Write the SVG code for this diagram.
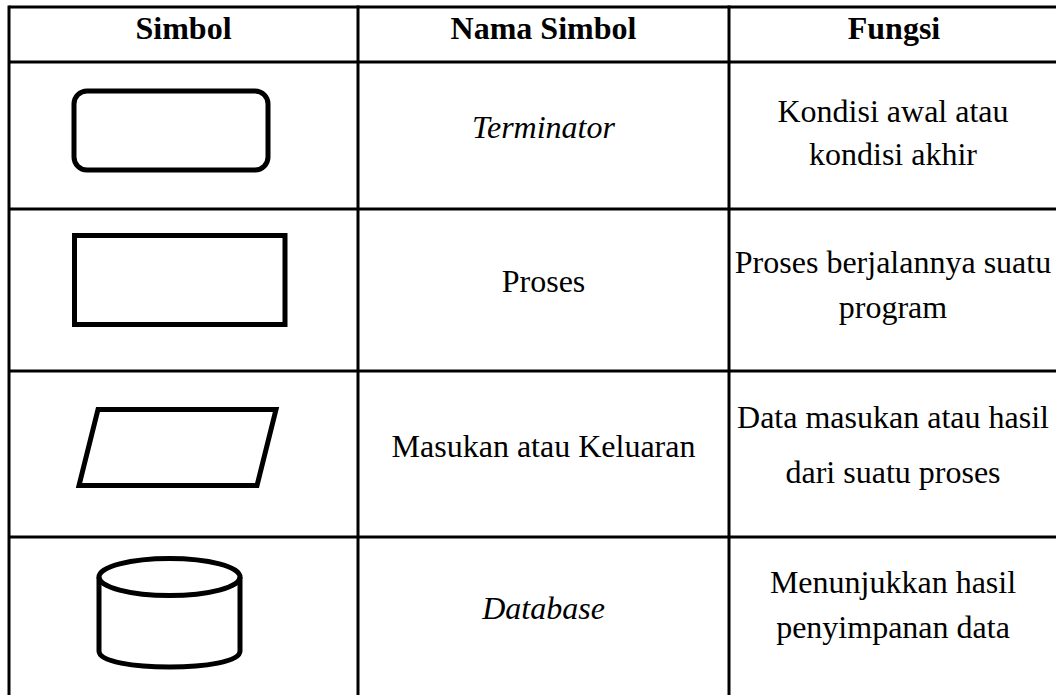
<svg xmlns="http://www.w3.org/2000/svg" width="1056" height="695" viewBox="0 0 1056 695">
<style>
.grid{stroke:#000;stroke-width:3;fill:none}
.sym{stroke:#000;stroke-width:5;fill:none;stroke-linejoin:round}
.sq{stroke:#000;stroke-width:5;fill:none;stroke-linejoin:miter}
.t{font-size:32px;fill:#000;text-anchor:middle}
.h{font-weight:bold}
.i{font-style:italic}
</style>
<rect width="1056" height="695" fill="#fff"/>
<g id="table-grid" class="grid">
<line x1="9" y1="7" x2="1058" y2="7"/>
<line x1="9" y1="62" x2="1058" y2="62"/>
<line x1="9" y1="209" x2="1058" y2="209"/>
<line x1="9" y1="371" x2="1058" y2="371"/>
<line x1="9" y1="537" x2="1058" y2="537"/>
<line x1="9" y1="5.5" x2="9" y2="697"/>
<line x1="358" y1="5.5" x2="358" y2="697"/>
<line x1="729" y1="5.5" x2="729" y2="697"/>
</g>
<g font-family="Liberation Serif, Tinos, Times New Roman, DejaVu Serif, serif">
<g id="header">
<text class="t h" x="183.5" y="39">Simbol</text>
<text class="t h" x="543.5" y="39">Nama Simbol</text>
<text class="t h" x="894" y="39">Fungsi</text>
</g>
<g id="row-terminator">
<rect class="sym" x="74" y="91" width="194" height="79" rx="13"/>
<text class="t i" x="543.5" y="138">Terminator</text>
<text class="t" x="893" y="122">Kondisi awal atau</text>
<text class="t" x="893" y="165">kondisi akhir</text>
</g>
<g id="row-proses">
<rect class="sq" x="74.5" y="235.5" width="210.5" height="89"/>
<text class="t" x="543.5" y="292">Proses</text>
<text class="t" x="893" y="273">Proses berjalannya suatu</text>
<text class="t" x="893" y="318">program</text>
</g>
<g id="row-io">
<polygon class="sq" points="98,409.5 276,409.5 257,485.5 79,485.5"/>
<text class="t" x="543.5" y="457">Masukan atau Keluaran</text>
<text class="t" x="893" y="428">Data masukan atau hasil</text>
<text class="t" x="893" y="483">dari suatu proses</text>
</g>
<g id="row-database">
<ellipse class="sym" cx="169.5" cy="577" rx="70.5" ry="18.5"/>
<path class="sym" d="M99,577 V651 C99,662 135,667 169.5,667 C204,667 240,662 240,651 V577"/>
<text class="t i" x="543.5" y="619">Database</text>
<text class="t" x="893" y="593">Menunjukkan hasil</text>
<text class="t" x="893" y="638">penyimpanan data</text>
</g>
</g>
</svg>
